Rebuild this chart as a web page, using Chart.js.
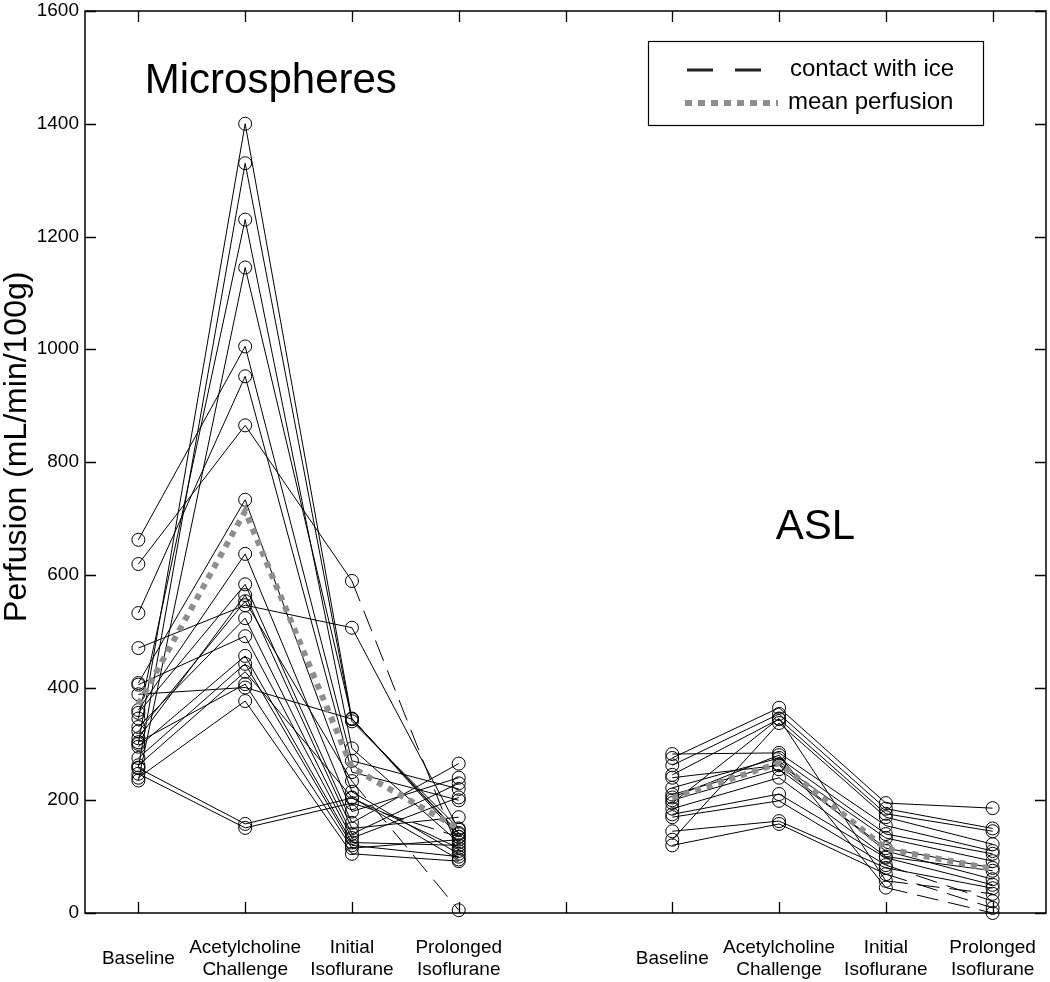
<!DOCTYPE html>
<html>
<head>
<meta charset="utf-8">
<script src="https://cdn.jsdelivr.net/npm/chart.js@4.4.1/dist/chart.umd.min.js"></script>
<style>
  html, body { margin: 0; padding: 0; background: #fff; }
</style>
</head>
<body>
<canvas id="chart" width="1050" height="982"></canvas>
<script>
/* Perfusion per subject: microspheres vs ASL, four conditions each */

const tickLabels = ["Baseline", ["Acetylcholine", "Challenge"], ["Initial", "Isoflurane"], ["Prolonged", "Isoflurane"], "",
                    "Baseline", ["Acetylcholine", "Challenge"], ["Initial", "Isoflurane"], ["Prolonged", "Isoflurane"]];
const msX  = [1, 2, 3, 4];
const aslX = [6, 7, 8, 9];

// microspheres, one entry per subject
const msBaseline  = [300, 258, 345, 235, 662, 532, 619, 408, 360, 355, 310, 470, 322, 330, 405, 295, 275, 262, 303, 388, 240, 257, 247];
const msAch       = [1400, 1330, 1230, 1145, 1005, 952, 865, 733, 637, 583, 564, 546, 553, 523, 491, 456, 442, 428, 406, 400, 376, 158, 151];
const msInitial   = [344, 340, 292, 345, 270, 250, 589, 215, 180, 160, 150, 506, 234, 140, 133, 125, 120, 205, 115, 344, 105, 204, 195];
const msProlonged = [140, 150, 125, 135, 220, 200, 110, 105, 240, 265, 170, 148, 5, 230, 205, 120, 100, 95, 130, 142, 92, 115, 135];
const msIce = [6, 12, 22];        // subjects in contact with ice (dashed last segment)
const msMean = [370, 713, 258, 150];

// ASL, one entry per subject
const aslBaseline  = [275, 262, 245, 130, 282, 222, 210, 200, 185, 175, 170, 145, 120, 195, 205, 240];
const aslAch       = [364, 353, 344, 337, 284, 275, 264, 255, 240, 211, 199, 163, 158, 345, 280, 262];
const aslInitial   = [195, 185, 176, 170, 155, 140, 133, 115, 100, 98, 85, 80, 69, 57, 45, 110];
const aslProlonged = [186, 150, 145, 122, 110, 105, 92, 80, 75, 50, 21, 44, 9, 34, 0, 60];
const aslIce = [10, 12, 13, 14];
const aslMean = [204, 266, 114, 78];

const MAIN_FONT = "'Liberation Sans', Arial, Helvetica, sans-serif";
const ICE_DASH = [22, 10];
const MEAN_GREY = "#8e8e8e";

function subjectSets(xs, cols, ice){
  const n = cols[0].length;
  const out = [];
  for (let i = 0; i < n; i++) {
    const dashed = ice.includes(i);
    out.push({
      data: xs.map((x, k) => ({ x: x, y: cols[k][i] })),
      borderColor: "#000",
      borderWidth: 1,
      pointRadius: 6.5,
      pointBorderWidth: 1,
      pointBorderColor: "#000",
      pointBackgroundColor: "rgba(0,0,0,0)",
      order: 1,
      clip: 8,
      segment: { borderDash: ctx => (dashed && ctx.p0DataIndex === 2) ? ICE_DASH : undefined }
    });
  }
  return out;
}

function meanSet(xs, vals){
  return {
    data: xs.map((x, k) => ({ x: x, y: vals[k] })),
    borderColor: MEAN_GREY,
    borderWidth: 6,
    borderDash: [6, 6],
    pointRadius: 0,
    order: 0
  };
}

const framePlugin = {
  id: "frame",
  afterDraw(chart){
    const { ctx, chartArea: a, scales: { x, y } } = chart;
    const TICK = 11;
    ctx.save();
    ctx.strokeStyle = "#000";
    ctx.lineWidth = 1.5;
    ctx.strokeRect(a.left, a.top, a.right - a.left, a.bottom - a.top);
    ctx.lineWidth = 1.3;
    ctx.beginPath();
    x.ticks.forEach(t => {
      const px = Math.round(x.getPixelForValue(t.value)) + 0.5;
      ctx.moveTo(px, a.bottom); ctx.lineTo(px, a.bottom - TICK);
      ctx.moveTo(px, a.top);    ctx.lineTo(px, a.top + TICK);
    });
    y.ticks.forEach(t => {
      const py = Math.round(y.getPixelForValue(t.value)) + 0.5;
      ctx.moveTo(a.left, py);  ctx.lineTo(a.left + TICK, py);
      ctx.moveTo(a.right, py); ctx.lineTo(a.right - TICK, py);
    });
    ctx.stroke();

    // y axis title
    ctx.fillStyle = "#000";
    ctx.save();
    ctx.translate(26, y.getPixelForValue(827));
    ctx.rotate(-Math.PI / 2);
    ctx.font = "32px " + MAIN_FONT;
    ctx.textAlign = "center";
    ctx.textBaseline = "alphabetic";
    ctx.fillText("Perfusion (mL/min/100g)", 0, 0);
    ctx.restore();

    // panel titles
    ctx.font = "42px " + MAIN_FONT;
    ctx.textAlign = "center";
    ctx.textBaseline = "alphabetic";
    ctx.fillText("Microspheres", x.getPixelForValue(2.24), y.getPixelForValue(1455));
    ctx.fillText("ASL", x.getPixelForValue(7.34), y.getPixelForValue(663));

    // legend box
    const lx = a.right - 398, ly = a.top + 30, lw = 335, lh = 84;
    ctx.fillStyle = "#fff";
    ctx.fillRect(lx, ly, lw, lh);
    ctx.lineWidth = 1.2;
    ctx.strokeStyle = "#000";
    ctx.strokeRect(lx + 0.5, ly + 0.5, lw, lh);

    ctx.lineWidth = 3;
    ctx.strokeStyle = "#222";
    ctx.setLineDash([26, 22]);
    ctx.beginPath();
    ctx.moveTo(lx + 39, ly + 29); ctx.lineTo(lx + 119, ly + 29);
    ctx.stroke();

    ctx.lineWidth = 6;
    ctx.strokeStyle = MEAN_GREY;
    ctx.setLineDash([7, 6]);
    ctx.beginPath();
    ctx.moveTo(lx + 37, ly + 62); ctx.lineTo(lx + 130, ly + 62);
    ctx.stroke();
    ctx.setLineDash([]);

    ctx.fillStyle = "#000";
    ctx.font = "24px " + MAIN_FONT;
    ctx.textAlign = "left";
    ctx.textBaseline = "middle";
    ctx.fillText("contact with ice", lx + 142, ly + 28);
    ctx.fillText("mean perfusion", lx + 140, ly + 61);
    ctx.restore();
  }
};

new Chart(document.getElementById("chart"), {
  type: "line",
  data: {
    datasets: [meanSet(msX, msMean), meanSet(aslX, aslMean)]
      .concat(subjectSets(msX, [msBaseline, msAch, msInitial, msProlonged], msIce))
      .concat(subjectSets(aslX, [aslBaseline, aslAch, aslInitial, aslProlonged], aslIce))
  },
  options: {
    responsive: false,
    animation: false,
    layout: { autoPadding: false, padding: { top: 11, right: 4, left: 0, bottom: 0 } },
    plugins: { legend: { display: false }, tooltip: { enabled: false } },
    scales: {
      x: {
        type: "linear",
        min: 0.5, max: 9.5,
        grid: { display: false, drawTicks: false },
        border: { display: false },
        afterBuildTicks: s => { s.ticks = tickLabels.map((_, i) => ({ value: i + 1 })); },
        afterFit: s => { s.height = 69; s.paddingLeft = 0; s.paddingRight = 0; },
        ticks: {
          autoSkip: false,
          maxRotation: 0,
          padding: 35,
          crossAlign: "center",
          color: "#000",
          font: { family: MAIN_FONT, size: 19, lineHeight: 1.15 },
          callback: v => tickLabels[Math.round(v) - 1]
        }
      },
      y: {
        min: 0, max: 1600,
        grid: { display: false, drawTicks: false },
        border: { display: false },
        afterFit: s => { s.width = 85; s.paddingTop = 0; s.paddingBottom = 0; },
        ticks: {
          stepSize: 200,
          padding: 6,
          color: "#000",
          font: { family: MAIN_FONT, size: 19 },
          callback: v => String(v)
        }
      }
    }
  },
  plugins: [framePlugin]
});
</script>
</body>
</html>
